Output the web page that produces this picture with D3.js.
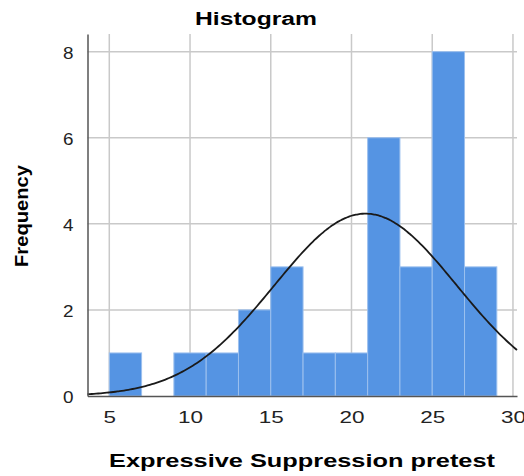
<!DOCTYPE html>
<html><head><meta charset="utf-8">
<script src="https://cdn.jsdelivr.net/npm/d3@7"></script>
<style>body{margin:0;background:#fff}svg{display:block}</style>
</head><body>
<script>
const binStarts = [5, 7, 9, 11, 13, 15, 17, 19, 21, 23, 25, 27];
const binWidth = 2;
const counts = [1, 0, 1, 1, 2, 3, 1, 1, 6, 3, 8, 3];
const xTicks = [5, 10, 15, 20, 25, 30];
const yTicks = [0, 2, 4, 6, 8];
const curveMean = 20.87, curveSD = 5.65, curveN = 30;

const W = 524, H = 476;
const FONT = "Liberation Sans, Arial, sans-serif";
const m = {left: 87.5, right: 7, top: 34, bottom: 80};
const svg = d3.select("body").append("svg").attr("width", W).attr("height", H);
const x = d3.scaleLinear().domain([3.65, 30.25]).range([m.left, W - m.right]);
const y = d3.scaleLinear().domain([0, 8.41]).range([H - m.bottom, m.top]);

// gridlines
svg.append("g").selectAll("line").data(xTicks).join("line")
  .attr("x1", d => x(d)).attr("x2", d => x(d)).attr("y1", m.top).attr("y2", H - m.bottom)
  .attr("stroke", "#c9c9c9").attr("stroke-width", 1.5);
svg.append("g").selectAll("line").data(yTicks.filter(d => d > 0)).join("line")
  .attr("x1", m.left).attr("x2", W - m.right).attr("y1", d => y(d)).attr("y2", d => y(d))
  .attr("stroke", "#c9c9c9").attr("stroke-width", 1.5);

// bars
svg.append("g").selectAll("rect").data(binStarts.map((s, i) => ({s, c: counts[i]})).filter(d => d.c > 0)).join("rect")
  .attr("x", d => x(d.s)).attr("width", d => x(d.s + binWidth) - x(d.s))
  .attr("y", d => y(d.c)).attr("height", d => y(0) - y(d.c))
  .attr("fill", "#5594e3").attr("stroke", "#9cc0ee").attr("stroke-width", 1);

// normal curve
const pts = d3.range(0, 201).map(i => {
  const xv = 3.65 + (30.25 - 3.65) * i / 200;
  const yv = curveN * binWidth / (curveSD * Math.sqrt(2 * Math.PI)) * Math.exp(-((xv - curveMean) ** 2) / (2 * curveSD * curveSD));
  return [xv, yv];
});
svg.append("path").datum(pts)
  .attr("d", d3.line().x(d => x(d[0])).y(d => y(d[1])).curve(d3.curveBasis))
  .attr("fill", "none").attr("stroke", "#1a1a1a").attr("stroke-width", 1.8);

// axes
const xAxis = svg.append("g").attr("transform", `translate(0,${H - m.bottom})`)
  .call(d3.axisBottom(x).tickValues(xTicks).tickSize(0).tickPadding(15));
const yAxis = svg.append("g").attr("transform", `translate(${m.left},0)`)
  .call(d3.axisLeft(y).tickValues(yTicks).tickSize(0).tickPadding(14));
[xAxis, yAxis].forEach(a => {
  a.select(".domain").attr("stroke", "#555").attr("stroke-width", 1.5);
  a.selectAll("text").attr("font-family", FONT).attr("font-size", 17).attr("fill", "#222")
    .attr("lengthAdjust", "spacingAndGlyphs");
});
xAxis.selectAll("text").attr("textLength", d => String(d).length * 12.5);
yAxis.selectAll("text").attr("textLength", d => String(d).length * 10.5).attr("dy", "0.4em");

svg.append("text").attr("x", 256).attr("y", 25).attr("text-anchor", "middle")
  .attr("font-family", FONT).attr("font-weight", "bold").attr("font-size", 18)
  .attr("textLength", 122).attr("lengthAdjust", "spacingAndGlyphs")
  .text("Histogram");
svg.append("text").attr("x", 302).attr("y", 467).attr("text-anchor", "middle")
  .attr("font-family", FONT).attr("font-weight", "bold").attr("font-size", 17.5)
  .attr("textLength", 386).attr("lengthAdjust", "spacingAndGlyphs")
  .text("Expressive Suppression pretest");
svg.append("text").attr("transform", "translate(28,216) rotate(-90)").attr("text-anchor", "middle")
  .attr("font-family", FONT).attr("font-weight", "bold").attr("font-size", 17.5)
  .attr("textLength", 102).attr("lengthAdjust", "spacingAndGlyphs")
  .text("Frequency");
</script>
</body></html>
